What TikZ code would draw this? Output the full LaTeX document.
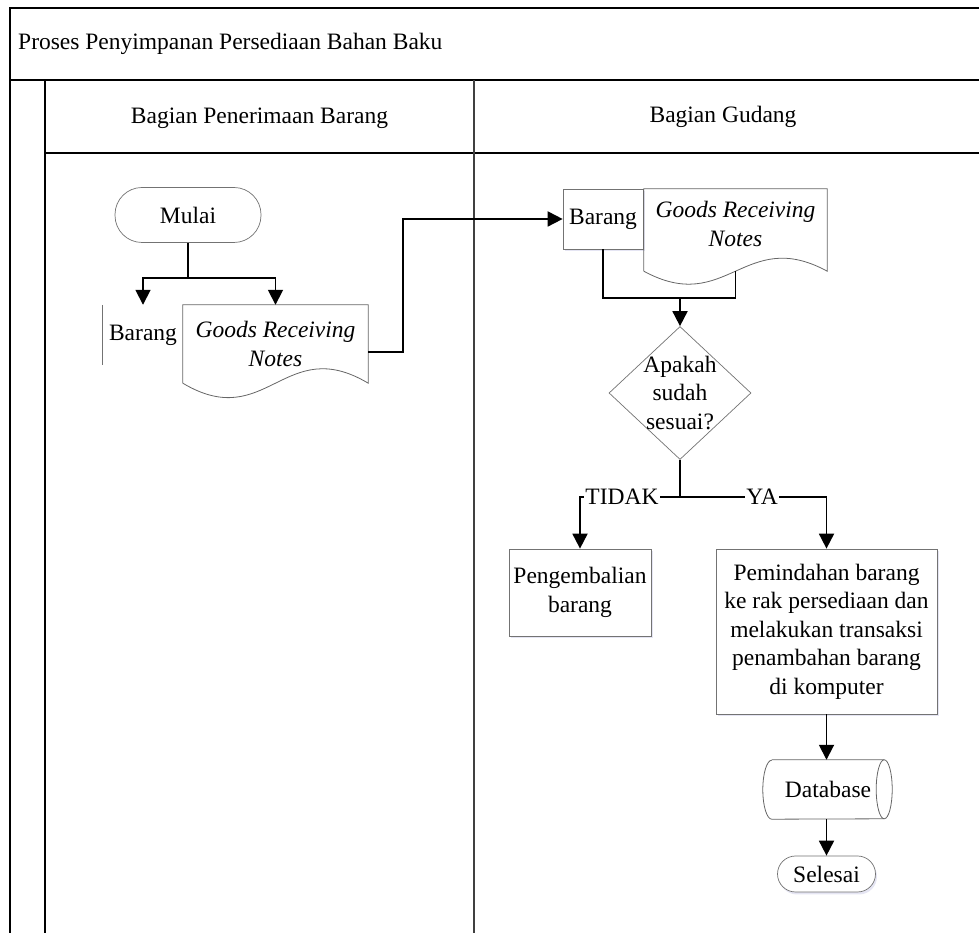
\documentclass[tikz,border=0pt]{standalone}
\usepackage{fontspec}
\setmainfont{Liberation Serif}
\usetikzlibrary{shapes.geometric,arrows.meta,calc,shadows}

\begin{document}
\begin{tikzpicture}[x=1pt,y=1pt,
  every node/.style={font=\fontsize{23.5}{28.5}\selectfont, inner sep=0pt, align=center},
  docfont/.style={font=\fontsize{23.5}{28.5}\selectfont\itshape},
  frame/.style={line width=1.7pt, black},
  lanediv/.style={line width=1.2pt, black!75},
  box/.style={rectangle, draw=black!55, line width=0.7pt, fill=white},
  softshadow/.style={drop shadow={shadow xshift=1.5pt, shadow yshift=-2.5pt, fill=blue!35!gray, opacity=0.15}},
  term/.style={rectangle, draw=black!55, line width=0.7pt, fill=white},
  outline/.style={draw=black!60, line width=0.8pt},
  flow/.style={line width=1.8pt, black},
  arr/.style={flow, -{Triangle[width=15pt,length=15pt]}},
  lbl/.style={fill=white, inner sep=1.5pt}
]
\useasboundingbox (0,0) rectangle (979,933);

% swimlane frame
\draw[frame] (979,925) -- (10,925) -- (10,0);
\draw[frame] (10,853) -- (979,853);
\draw[frame] (45,853) -- (45,0);
\draw[frame] (45,780) -- (979,780);
\draw[lanediv] (474,853) -- (474,0);

\node[anchor=west] (title) at (18,889) {Proses Penyimpanan Persediaan Bahan Baku};
\node (laneA) at (259.5,815) {Bagian Penerimaan Barang};
\node (laneB) at (723,816) {Bagian Gudang};

% --- Bagian Penerimaan Barang ---
\node[term, rounded corners=27pt, minimum width=146pt, minimum height=55pt] (mulai) at (188,718) {Mulai};
\coordinate (jL) at (188,655);

\node[minimum width=80pt, minimum height=60pt] (barangL) at (143,598) {Barang};
\draw[draw=black!55, line width=0.7pt] (barangL.north west) -- (barangL.south west);

\node[docfont, minimum width=185pt, minimum height=78pt] (grnL) at (275.5,589) {Goods Receiving\\Notes};
\draw[outline] (grnL.south west) -- (grnL.north west) -- (grnL.north east) -- (grnL.south east)
  .. controls ($(grnL.south)+(9,50)$) and ($(grnL.south)+(-9,-50)$) .. (grnL.south west);

\draw[flow] (mulai.south) -- (jL);
\draw[arr] (jL) -| (barangL.north);
\draw[arr] (jL) -| (grnL.north);

% --- Bagian Gudang ---
\node[box, softshadow, minimum width=80pt, minimum height=60pt] (barangR) at (603,714) {Barang};
\node[docfont, minimum width=183pt, minimum height=70pt] (grnR) at (735.5,709) {Goods Receiving\\Notes};
\coordinate (grnRbase) at ($(grnR.south)+(0,-12)$);
\draw[outline] ($(grnR.south west)+(0,-12)$) -- (grnR.north west) -- (grnR.north east) -- ($(grnR.south east)+(0,-12)$)
  .. controls ($(grnRbase)+(9,45)$) and ($(grnRbase)+(-9,-45)$) .. ($(grnR.south west)+(0,-12)$);

\draw[arr] ($(grnL.east)+(0,-8)$) -- ++(35,0) |- (barangR.west);

\coordinate (jR) at (680,635);
\draw[flow] (barangR.south) |- (jR) -| (grnRbase);

\node[diamond, draw=black!55, line width=0.7pt, fill=white, aspect=1.07,
      minimum width=142pt, minimum height=133pt,
      label={[align=center]center:Apakah\\sudah\\sesuai?}] (dec) at (680,540) {};
\draw[arr] (jR) -- (dec.north);

\coordinate (jD) at (680,436);
\node[box, softshadow, minimum width=142pt, minimum height=87pt] (peng) at (580,340.5) {Pengembalian\\barang};
\node[box, softshadow, minimum width=221pt, minimum height=165pt] (proc) at (826.5,301.5)
  {Pemindahan barang\\ke rak persediaan dan\\melakukan transaksi\\penambahan barang\\di komputer};

\draw[flow] (dec.south) -- (jD);
\draw[arr] (jD) -| node[lbl, pos=0.29] {TIDAK} (peng.north);
\draw[arr] (jD) -| node[lbl, pos=0.28] {YA} (proc.north);

% direct-access storage shape
\node[minimum width=112pt, minimum height=59pt] (db) at (828,143.5) {Database};
\draw[outline] (db.north west) -- (db.north east)
  arc[start angle=90, end angle=-90, x radius=8pt, y radius=29.5pt]
  -- (db.south west)
  arc[start angle=270, end angle=90, x radius=9pt, y radius=29.5pt];
\draw[outline] (db.north east) arc[start angle=90, end angle=270, x radius=8pt, y radius=29.5pt];

\node[term, softshadow, rounded corners=18pt, minimum width=98pt, minimum height=36pt] (selesai) at (826.5,59) {Selesai};

\draw[arr] (proc.south) -- (proc.south |- db.north);
\draw[arr] (proc.south |- db.south) -- (selesai.north);
\end{tikzpicture}
\end{document}
